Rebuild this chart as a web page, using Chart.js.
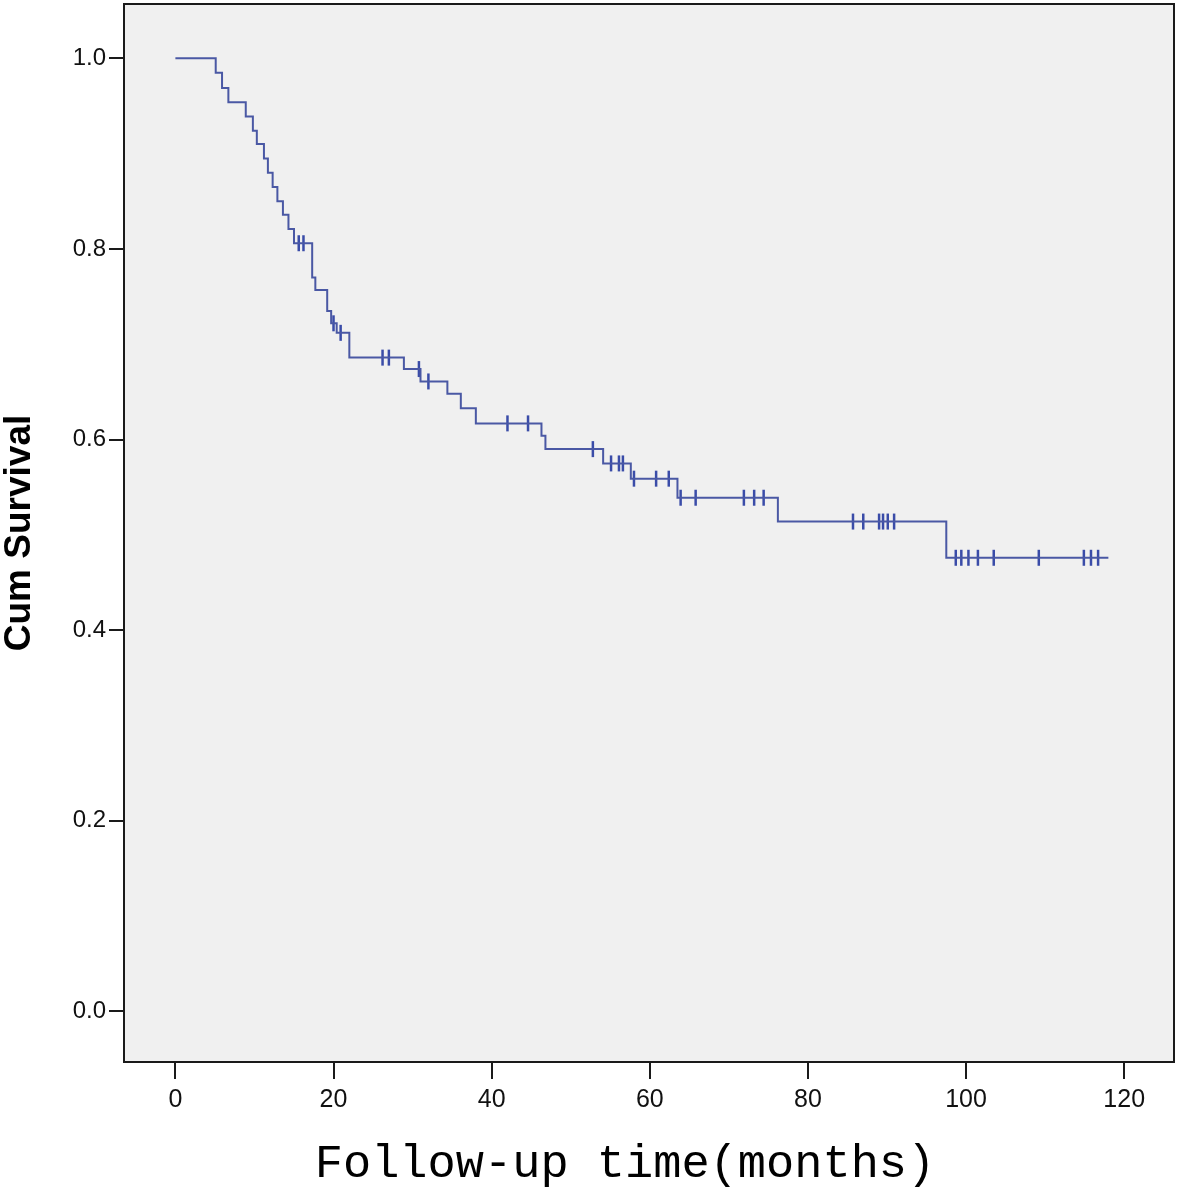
<!DOCTYPE html>
<html>
<head>
<meta charset="utf-8">
<script src="https://cdn.jsdelivr.net/npm/chart.js@4.4.1/dist/chart.umd.min.js"></script>
<style>
  html, body { margin: 0; padding: 0; background: #ffffff; }
  #wrap { width: 1181px; height: 1192px; }
</style>
</head>
<body>
<div id="wrap"><canvas id="c" width="1181" height="1192"></canvas></div>
<script>
// ---- Data (Kaplan-Meier curve) ----
const stepTimes = [0, 5.1, 5.9, 6.7, 8.9, 9.8, 10.3, 11.2, 11.7, 12.3, 12.9, 13.6, 14.3, 15.0,
  17.3, 17.7, 19.2, 19.7, 20.4, 22.0, 28.9, 31.0, 34.4, 36.1, 38.0, 46.3, 46.8,
  54.1, 57.6, 63.5, 76.2, 97.5];
const stepSurvival = [1.0, 0.985, 0.969, 0.954, 0.939, 0.924, 0.910, 0.895, 0.880, 0.865, 0.850, 0.836, 0.821, 0.806,
  0.770, 0.757, 0.735, 0.722, 0.712, 0.686, 0.674, 0.661, 0.648, 0.633, 0.617, 0.604, 0.590,
  0.575, 0.559, 0.539, 0.514, 0.476];
const lastFollowUp = 118.0;
const censorTimes = [15.6, 16.2, 20.0, 20.9, 26.2, 27.0, 30.8, 32.0, 42.0, 44.6, 52.8, 55.1, 56.1, 56.6,
  58.0, 60.8, 62.4, 63.9, 65.8, 71.9, 73.2, 74.4, 85.7, 87.0, 89.0, 89.5, 90.1, 90.9,
  98.7, 99.4, 100.3, 101.5, 103.5, 109.2, 114.9, 115.8, 116.7];
const xTickValues = [0, 20, 40, 60, 80, 100, 120];
const yTickValues = [0.0, 0.2, 0.4, 0.6, 0.8, 1.0];
const yTickLabels = ['0.0', '0.2', '0.4', '0.6', '0.8', '1.0'];
const xTitle = 'Follow-up time(months)';
const yTitle = 'Cum Survival';

// ---- Build datasets from the arrays ----
function survivalAt(t) {
  let s = stepSurvival[0];
  for (let i = 0; i < stepTimes.length; i++) {
    if (stepTimes[i] <= t) s = stepSurvival[i];
  }
  return s;
}
const curvePoints = stepTimes.map((t, i) => ({ x: t, y: stepSurvival[i] }));
curvePoints.push({ x: lastFollowUp, y: survivalAt(lastFollowUp) });
const censorPoints = censorTimes.map(t => ({ x: t, y: survivalAt(t) }));

const frame = {
  id: 'frame',
  beforeDatasetsDraw(chart) {
    const { ctx, chartArea: a } = chart;
    ctx.save();
    ctx.fillStyle = '#f0f0f0';
    ctx.fillRect(a.left, a.top, a.right - a.left, a.bottom - a.top);
    ctx.restore();
  },
  afterDraw(chart) {
    const { ctx, chartArea: a } = chart;
    ctx.save();
    ctx.strokeStyle = '#1a1a1a';
    ctx.lineWidth = 2;
    ctx.strokeRect(a.left, a.top, a.right - a.left, a.bottom - a.top);
    // x-axis title (slightly left of centre, as in the reference)
    ctx.fillStyle = '#000';
    ctx.font = '47px "Liberation Mono"';
    ctx.textAlign = 'center';
    ctx.textBaseline = 'middle';
    ctx.fillText(xTitle, (a.left + a.right) / 2 - 24, 1165);
    ctx.restore();
  }
};

function noPad(s) { s.paddingTop = 0; s.paddingBottom = 0; s.paddingLeft = 0; s.paddingRight = 0; }

new Chart(document.getElementById('c'), {
  type: 'scatter',
  data: {
    datasets: [
      {
        data: curvePoints,
        showLine: true,
        stepped: 'before',
        borderColor: '#4a58a4',
        borderWidth: 2,
        pointRadius: 0,
        fill: false
      },
      {
        data: censorPoints,
        showLine: false,
        pointStyle: 'line',
        rotation: 90,
        pointRadius: 8,
        pointBorderWidth: 2.5,
        pointBorderColor: '#3a4ca8',
        pointBackgroundColor: '#3a4ca8'
      }
    ]
  },
  options: {
    responsive: false,
    animation: false,
    devicePixelRatio: 1,
    layout: { autoPadding: false, padding: { top: 4, right: 7, left: 0, bottom: 0 } },
    plugins: { legend: { display: false }, tooltip: { enabled: false } },
    scales: {
      x: {
        type: 'linear',
        min: -6.5,
        max: 126.3,
        afterBuildTicks: s => { s.ticks = xTickValues.map(v => ({ value: v })); },
        afterFit: s => { s.height = 130; noPad(s); },
        grid: { drawOnChartArea: false, drawTicks: true, tickLength: 17, color: '#1a1a1a', lineWidth: 2 },
        border: { display: false },
        ticks: { color: '#111', font: { family: 'Liberation Sans', size: 25 }, padding: 6, maxRotation: 0 },
        title: { display: false }
      },
      y: {
        type: 'linear',
        min: -0.053,
        max: 1.057,
        afterBuildTicks: s => { s.ticks = yTickValues.map(v => ({ value: v })); },
        afterFit: s => { s.width = 124; noPad(s); },
        grid: { drawOnChartArea: false, drawTicks: true, tickLength: 15, color: '#1a1a1a', lineWidth: 2 },
        border: { display: false },
        ticks: {
          color: '#111',
          font: { family: 'Liberation Sans', size: 24 },
          padding: 3,
          callback: (v, i) => yTickLabels[i]
        },
        title: {
          display: true,
          text: yTitle,
          color: '#000',
          font: { family: 'Liberation Sans', size: 37, weight: 'bold', lineHeight: 1 },
          padding: { top: 1, bottom: 0 }
        }
      }
    }
  },
  plugins: [frame]
});
</script>
</body>
</html>
